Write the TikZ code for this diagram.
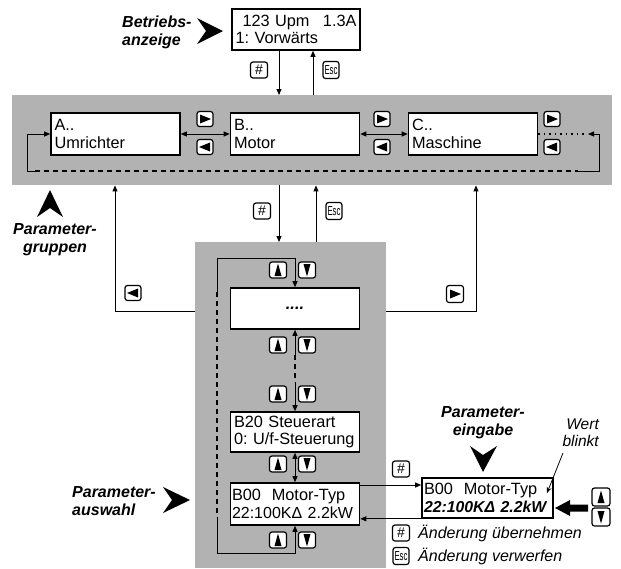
\documentclass[tikz,border=0pt]{standalone}
\usepackage{fontspec}
\setmainfont{Liberation Sans}
\usetikzlibrary{arrows.meta}
\definecolor{panel}{gray}{0.70}
\frenchspacing
\begin{document}
\begin{tikzpicture}[x=1pt,y=-1pt,
  every node/.style={inner sep=0pt, font=\fontsize{16.3}{17.5}\selectfont},
  lcd/.style={draw, line width=1.6pt, fill=white, minimum width=129pt, minimum height=42pt, text width=122pt, align=left},
  lab/.style={font=\fontsize{16}{18}\selectfont\bfseries\itshape},
  panelbox/.style={fill=panel, draw=none, anchor=north west},
  btn/.style={draw, line width=1.2pt, rounded corners=2.5pt, fill=white, minimum width=16pt, minimum height=15pt},
  ico/.style={black, sharp corners, shift={(path picture bounding box.center)}},
  bR/.style={btn, path picture={\fill[ico] (-5,-4.5) -- (6,0) -- (-5,4.5) -- cycle;}},
  bL/.style={btn, path picture={\fill[ico] (5,-4.5) -- (-6,0) -- (5,4.5) -- cycle;}},
  bU/.style={btn, minimum width=17pt, minimum height=16pt, path picture={\fill[ico] (0,-6.5) -- (3.5,6) -- (-3.5,6) -- cycle;}},
  bD/.style={btn, minimum width=17pt, minimum height=16pt, path picture={\fill[ico] (0,6.5) -- (3.5,-6) -- (-3.5,-6) -- cycle;}},
  bH/.style={btn, minimum width=17pt, minimum height=16pt, font=\fontsize{14}{14}\selectfont},
  bE/.style={btn, minimum width=16pt, minimum height=17pt, font=\fontsize{13}{13}\selectfont},
  conn/.style={line width=0.9pt},
  arr/.style={conn, -{Triangle[length=6pt,width=5pt]}},
  arrb/.style={conn, {Triangle[length=6pt,width=5pt]}-{Triangle[length=6pt,width=5pt]}},
  dashln/.style={conn, dash pattern=on 5pt off 4pt, line width=1.3pt},
  dott/.style={line width=1.5pt, dash pattern=on 1.5pt off 4pt}
]
\useasboundingbox (0,0) rectangle (621,568);

% panels
\node[panelbox, minimum width=600pt, minimum height=90pt] (band) at (12,95) {};
\node[panelbox, minimum width=191pt, minimum height=326pt] (selp) at (195,242) {};

% top display
\node[lcd, minimum width=128pt, minimum height=41pt, text width=121pt] (disp) at (296,29.5) {\hspace*{7pt}123 Upm\hspace{0pt plus 1filll}1.3A\\1: Vorwärts};

% group boxes
\node[lcd] (A) at (115.5,134) {A..\\Umrichter};
\node[lcd] (B) at (295,134) {B..\\Motor};
\node[lcd] (C) at (473,134) {C..\\Maschine};

% parameter boxes
\node[lcd, minimum height=41pt, align=center] (dots) at (295,308.5) {\bfseries\itshape ....};
\node[lcd, minimum height=40pt] (B20) at (295,432) {B20 Steuerart\\0: U/f-Steuerung};
\node[lcd, minimum height=42pt, text width=126pt] (B00) at (295,504) {B00\ \ Motor-Typ\\\mbox{\fontsize{16}{17.5}\selectfont 22:100KΔ 2.2kW}};
\node[lcd, minimum width=131pt, minimum height=40pt, text width=127pt] (P) at (487.5,498) {B00\ \ Motor-Typ\\\mbox{\fontsize{15.8}{17.5}\selectfont\bfseries\itshape 22:100KΔ 2.2kW}};

% top connectors
\coordinate (t1) at (279,95);
\coordinate (t2) at (313,95);
\draw[arr] (disp.south -| t1) -- (t1);
\draw[arr] (t2) -- (disp.south -| t2);
\node[bH] (h1) at (259,70) {\#};
\node[bE] (e1) at (331,70) {\scalebox{0.6}[1]{Esc}};

% band internal
\draw[arrb] (A.east) -- (B.west);
\draw[arrb] (B.east) -- (C.west);
\node[bR] (r1) at (205,119) {};
\node[bL] (l1) at (205,147) {};
\node[bR] (r2) at (382,119) {};
\node[bL] (l2) at (382,147) {};
\node[bR] (r3) at (552,119) {};
\node[bL] (l3) at (552,147) {};
\coordinate (lc) at (27,171);
\coordinate (ld) at (35,171);
\coordinate (rd) at (578,171);
\coordinate (rc) at (599,171);
\coordinate (rt) at (599,134);
\coordinate (re) at (588,134);
\coordinate (de) at (584,134);
\draw[arr] (lc) |- (A.west);
\draw[conn] (lc) -- (ld);
\draw[dashln] (ld) -- (rd);
\draw[arr] (rd) -- (rc) -- (rt) -- (re);
\draw[dott] (C.east) -- (de);

% band <-> selection panel
\coordinate (s1) at (279,242);
\coordinate (s2) at (316,242);
\draw[arr] (band.south -| s1) -- (s1);
\draw[arr] (s2) -- (band.south -| s2);
\node[bH] (h2) at (262,211) {\#};
\node[bE] (e2) at (334,211) {\scalebox{0.6}[1]{Esc}};
\coordinate (lq) at (115,311);
\coordinate (rq) at (476,311);
\draw[arr] (selp.west |- lq) -- (lq) -- (lq |- band.south);
\draw[arr] (selp.east |- rq) -- (rq) -- (rq |- band.south);
\node[bL] (l4) at (133,293) {};
\node[bR, minimum width=17pt, minimum height=17pt] (r4) at (455,294) {};

% selection loop
\coordinate (lt) at (217,258);
\coordinate (lu) at (217,292);
\coordinate (ll) at (217,517);
\coordinate (lb) at (217,553);
\draw[arr] (lu) -- (lt) -| (dots.north);
\draw[dashln] (lu) -- (ll);
\draw[arr] (ll) -- (lb) -| (B00.south);
\coordinate (m1) at (295,355);
\coordinate (m2) at (295,382);
\draw[arr] (m1) -- (dots.south);
\draw[dashln] (m1) -- (m2);
\draw[arr] (m2) -- (B20.north);
\draw[arrb] (B20.south) -- (B00.north);
\foreach \y [count=\i] in {270,345,394,464,540} {
  \node[bU] (u\i) at (278,\y) {};
  \node[bD] (d\i) at (307,\y) {};
}

% B00 <-> parameter input
\coordinate (o1) at (360,485);
\draw[arr] (B00.east |- o1) -- (P.west |- o1);
\draw[arr] (P.south west) -- (P.south west -| B00.east);
\node[bH] (h3) at (401,469) {\#};

% labels with arrowheads
\node[lab, align=left, anchor=west] (lbA) at (122,32) {Betriebs-\\anzeige};
\fill (223,31) -- (197,18) -- (206,31) -- (197,44) -- cycle;
\node[lab, align=center] (lbG) at (55,240) {Parameter-\\gruppen};
\fill (50,190) -- (63,217) -- (50,208) -- (37,217) -- cycle;
\node[lab, align=left, anchor=west] (lbS) at (72,501) {Parameter-\\auswahl};
\fill (190,500) -- (163,487) -- (172,500) -- (163,513) -- cycle;
\node[lab, align=center] (lbE) at (483,423) {Parameter-\\eingabe};
\fill (483,472) -- (470,446) -- (483,455) -- (497,446) -- cycle;

% value blinks
\node[font=\fontsize{15.5}{17}\selectfont\itshape, align=right, anchor=east] (wb) at (599,433) {Wert\\blinkt};
\coordinate (w1) at (563,453);
\coordinate (w2) at (547,493);
\draw[line width=0.8pt, -{Stealth[length=6pt,width=5pt]}] (w1) -- (w2);

% input keys and thick arrow
\fill (588,504.5) -- (570,504.5) -- (570,500) -- (555,508) -- (570,516) -- (570,511.5) -- (588,511.5) -- cycle;
\node[bU, minimum width=18pt, minimum height=18pt] (ku) at (601,497) {};
\node[bD, minimum width=18pt, minimum height=18pt] (kd) at (601,517) {};

% legend
\node[bH] (h4) at (401,533) {\#};
\node[anchor=west, font=\fontsize{16}{16}\selectfont\itshape] (lg1) at (418,533) {Änderung übernehmen};
\node[bE] (e4) at (401,556) {\scalebox{0.6}[1]{Esc}};
\node[anchor=west, font=\fontsize{16}{16}\selectfont\itshape] (lg2) at (418,556) {Änderung verwerfen};
\end{tikzpicture}
\end{document}
